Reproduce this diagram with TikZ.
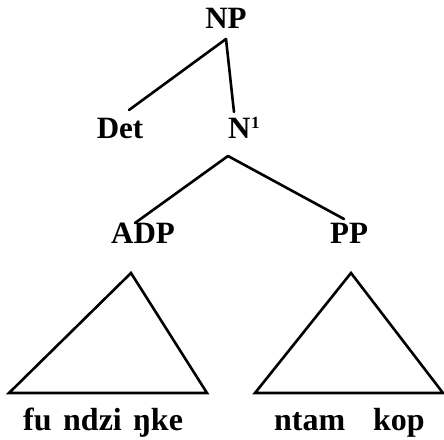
\documentclass[tikz,border=0pt]{standalone}
\usepackage{fontspec}
\setmainfont{Liberation Serif}
\begin{document}
\begin{tikzpicture}[x=1pt,y=-1pt,
  lbl/.style={font=\fontsize{31}{33}\selectfont\bfseries, inner sep=0pt, anchor=base},
  word/.style={font=\fontsize{32}{34}\selectfont\bfseries, inner sep=0pt, anchor=base west},
  branch/.style={line width=2.6pt, line cap=round},
  tri/.style={line width=2.6pt, line join=miter}]
\useasboundingbox (0,0) rectangle (444,439);

% category labels
\node[lbl] (np)  at (226,28)  {NP};
\node[lbl] (det) at (120,138) {Det};
\node[lbl, anchor=base west] (nbar) at (228,138)
  {N\kern0.5pt{\fontsize{17}{17}\selectfont\raisebox{10pt}{1}}};
\node[lbl] (adp) at (143,243) {ADP};
\node[lbl] (pp)  at (349,243) {PP};

% branch end points
\coordinate (np-foot)   at (226,39);
\coordinate (det-head)  at (129,110);
\coordinate (nbar-head) at (234,112);
\coordinate (nbar-foot) at (228,156);
\coordinate (adp-head)  at (135,223);
\coordinate (pp-head)   at (344,219);

\draw[branch] (np-foot) -- (det-head);
\draw[branch] (np-foot) -- (nbar-head);
\draw[branch] (nbar-foot) -- (adp-head);
\draw[branch] (nbar-foot) -- (pp-head);

% roof triangles
\coordinate (adp-top)   at (131,273);
\coordinate (adp-left)  at (9,393);
\coordinate (adp-right) at (207,393);
\coordinate (pp-top)    at (351,273);
\coordinate (pp-left)   at (255,393);
\coordinate (pp-right)  at (443,393);
\draw[tri] (adp-top) -- (adp-left) -- (adp-right) -- cycle;
\draw[tri] (pp-top) -- (pp-left) -- (pp-right) -- cycle;

% terminal words
\node[word] (w1) at (23,430)  {fu};
\node[word] (w2) at (63,430)  {ndzi};
\node[word] (w3) at (133,430) {ŋke};
\node[word] (w4) at (274,430) {ntam};
\node[word] (w5) at (373,430) {kop};
\end{tikzpicture}
\end{document}
